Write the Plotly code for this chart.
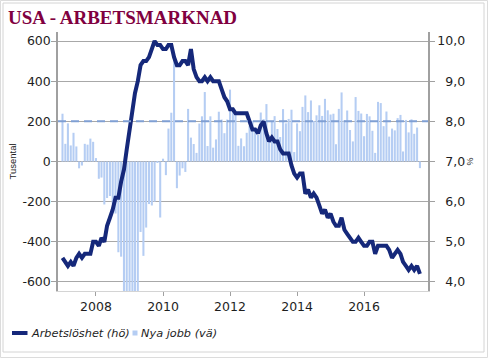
import plotly.graph_objects as go
import pandas as pd

# ---------------- data ----------------
months = pd.date_range("2007-01-01", "2017-09-01", freq="MS")

# Monthly change in nonfarm payrolls, thousands ("Nya jobb", left axis)
nya_jobb = [
    238, 88, 190, 80, 143, 75, -34, -20, 88, 84, 114, 98,            # 2007
    17, -86, -80, -214, -182, -172, -210, -259, -452, -474, -765, -697,  # 2008
    -791, -703, -823, -686, -351, -470, -329, -212, -219, -200, -7, -279,  # 2009
    14, -68, 164, 243, 522, -133, -70, -34, -52, 262, 119, 87,        # 2010
    43, 189, 225, 346, 77, 225, 69, 110, 248, 209, 141, 209,          # 2011
    358, 250, 233, 78, 115, 76, 143, 177, 203, 146, 132, 244,         # 2012
    211, 286, 130, 197, 226, 162, 122, 261, 190, 212, 258, 47,        # 2013
    190, 151, 272, 329, 246, 304, 202, 230, 280, 227, 312, 255,       # 2014
    234, 238, 86, 262, 344, 206, 254, 157, 100, 321, 252, 239,        # 2015
    126, 237, 225, 153, 43, 297, 291, 176, 249, 124, 164, 155,        # 2016
    216, 232, 50, 207, 145, 210, 138, 169, -33,                       # 2017
]

# Unemployment rate, % ("Arbetslöshet", right axis)
arbetsloshet = [
    4.6, 4.5, 4.4, 4.5, 4.4, 4.6, 4.7, 4.6, 4.7, 4.7, 4.7, 5.0,   # 2007
    5.0, 4.9, 5.1, 5.0, 5.4, 5.6, 5.8, 6.1, 6.1, 6.5, 6.8, 7.3,   # 2008
    7.8, 8.3, 8.7, 9.0, 9.4, 9.5, 9.5, 9.6, 9.8, 10.0, 9.9, 9.9,  # 2009
    9.8, 9.8, 9.9, 9.9, 9.6, 9.4, 9.4, 9.5, 9.5, 9.4, 9.8, 9.3,   # 2010
    9.1, 9.0, 9.0, 9.1, 9.0, 9.1, 9.0, 9.0, 9.0, 8.8, 8.6, 8.5,   # 2011
    8.3, 8.3, 8.2, 8.2, 8.2, 8.2, 8.2, 8.0, 7.8, 7.8, 7.7, 7.9,   # 2012
    8.0, 7.7, 7.5, 7.6, 7.5, 7.5, 7.3, 7.2, 7.2, 7.2, 6.9, 6.7,   # 2013
    6.6, 6.7, 6.7, 6.2, 6.3, 6.1, 6.2, 6.1, 5.9, 5.7, 5.8, 5.6,   # 2014
    5.7, 5.5, 5.4, 5.4, 5.6, 5.3, 5.2, 5.1, 5.0, 5.0, 5.1, 5.0,   # 2015
    4.9, 4.9, 5.0, 5.0, 4.7, 4.9, 4.9, 4.9, 4.9, 4.8, 4.6, 4.7,   # 2016
    4.8, 4.7, 4.5, 4.4, 4.3, 4.4, 4.3, 4.4, 4.2,                  # 2017
]

referensniva = [200]          # dashed reference level on left axis

left_ticks = [-600, -400, -200, 0, 200, 400, 600]
left_ticktext = ["-600", "-400", "-200", "0", "200", "400", "600"]
right_ticks = [4, 5, 6, 7, 8, 9, 10]
right_ticktext = ["\u20074,0", "\u20075,0", "\u20076,0", "\u20077,0", "\u20078,0", "\u20079,0", "10,0"]

legend_names = ["Arbetslöshet (hö)", "Nya jobb (vä)"]

# ---------------- styles ----------------
NAVY = "#15287a"
BAR = "#b5cdf3"
DASH = "#7f9fd3"
GRID = "#a8a8a8"
AXIS = "#a0a0a0"
TXT = "#1e1e1e"
FONT = "DejaVu Sans"

fig = go.Figure()

fig.add_trace(go.Bar(
    x=months, y=nya_jobb, name=legend_names[1],
    marker=dict(color=BAR, line=dict(width=0)),
    yaxis="y", showlegend=False,
))

fig.add_trace(go.Scatter(
    x=[0, 1], y=referensniva * 2, xaxis="x2", yaxis="y",
    mode="lines", line=dict(color=DASH, width=2, dash="8px,5px"),
    showlegend=False, hoverinfo="skip",
))

fig.add_trace(go.Scatter(
    x=months, y=arbetsloshet, name=legend_names[0],
    mode="lines", line=dict(color=NAVY, width=4),
    yaxis="y2", showlegend=False,
))

# geometry helpers (pixel -> paper)
px_l, px_r, px_t, px_b = 58, 428, 32, 291
W, H = 488, 358
def px2x(p): return (p - px_l) / (px_r - px_l)
def px2y(p): return (px_b - p) / (px_b - px_t)

shapes = [
    # frame
    dict(type="rect", xref="paper", yref="paper",
         x0=px2x(0.5), x1=px2x(W - 0.5), y0=px2y(H - 0.5), y1=px2y(0.5),
         line=dict(color="#dcdcdc", width=1), fillcolor="rgba(0,0,0,0)", layer="below"),
    dict(type="rect", xref="paper", yref="paper",
         x0=px2x(3), x1=px2x(484), y0=px2y(352), y1=px2y(3),
         line=dict(color="#d4d4d4", width=1), fillcolor="rgba(0,0,0,0)", layer="below"),
    # legend keys
    dict(type="line", xref="paper", yref="paper",
         x0=px2x(12), x1=px2x(27.5), y0=px2y(333), y1=px2y(333),
         line=dict(color=NAVY, width=4)),
    dict(type="rect", xref="paper", yref="paper",
         x0=px2x(132.5), x1=px2x(137.5), y0=px2y(335.5), y1=px2y(330.5),
         line=dict(width=0), fillcolor=BAR),
]

legend_font = dict(family=FONT, size=11.3, color=TXT, style="italic")
annotations = [
    dict(text=legend_names[0], xref="paper", yref="paper",
         x=px2x(28.5), y=px2y(333), xanchor="left", yanchor="middle",
         showarrow=False, font=legend_font),
    dict(text=legend_names[1], xref="paper", yref="paper",
         x=px2x(138.5), y=px2y(333), xanchor="left", yanchor="middle",
         showarrow=False, font=legend_font),
]

fig.update_layout(
    width=W, height=H,
    margin=dict(l=px_l, r=W - px_r, t=px_t, b=H - px_b, autoexpand=False),
    paper_bgcolor="white", plot_bgcolor="white",
    font=dict(family=FONT, size=12.5, color=TXT),
    title=dict(
        text="USA - ARBETSMARKNAD",
        x=8 / W, xanchor="left", xref="container",
        y=1 - 17 / H, yanchor="middle", yref="container",
        font=dict(family="Liberation Serif", size=19, color="#800040", weight="bold"),
    ),
    bargap=0.2,
    showlegend=False,
    xaxis=dict(
        type="date", range=["2006-11-13", "2017-11-28"],
        tick0="2008-01-01", dtick="M24", tickformat="%Y",
        ticks="outside", ticklen=4, tickcolor=AXIS, tickwidth=1,
        showline=True, linecolor="#d4d4d4", linewidth=1,
        showgrid=False, zeroline=False,
        tickfont=dict(family=FONT, size=12.5, color=TXT),
    ),
    xaxis2=dict(overlaying="x", range=[0, 1], visible=False),
    yaxis=dict(
        range=[-645, 645], tickvals=left_ticks, ticktext=left_ticktext,
        ticks="outside", ticklen=5, tickcolor=AXIS, tickwidth=1,
        ticklabelstandoff=-2,
        showline=True, linecolor=AXIS, linewidth=1.5,
        showgrid=True, gridcolor=GRID, gridwidth=1.3, zeroline=False,
        tickfont=dict(family=FONT, size=12.5, color=TXT),
        title=dict(text="Tusental", standoff=4,
                   font=dict(family="Liberation Sans", size=9.5, color=TXT)),
    ),
    yaxis2=dict(
        overlaying="y", side="right", range=[3.775, 10.225],
        tickvals=right_ticks, ticktext=right_ticktext,
        ticks="outside", ticklen=5, tickcolor=AXIS, tickwidth=1,
        showline=True, linecolor=AXIS, linewidth=1.5,
        showgrid=False, zeroline=False,
        tickfont=dict(family=FONT, size=12.5, color=TXT),
        title=dict(text="%", standoff=2,
                   font=dict(family="Liberation Sans", size=9, color=TXT)),
    ),
    shapes=shapes,
    annotations=annotations,
)

fig.write_html(
    "out.html",
    config={"displayModeBar": False},
    post_script="document.body.style.margin='0';document.body.style.padding='0';",
)
